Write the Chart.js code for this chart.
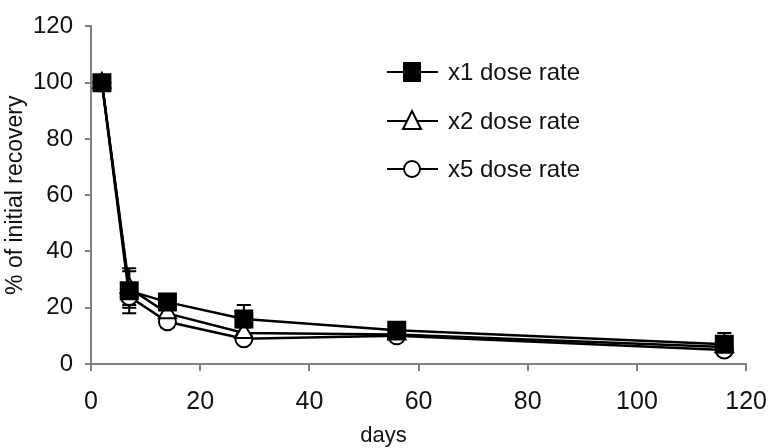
<!DOCTYPE html>
<html>
<head>
<meta charset="utf-8">
<script src="https://cdn.jsdelivr.net/npm/chart.js@4/dist/chart.umd.min.js"></script>
<style>
  html, body { margin: 0; padding: 0; background: #fff; }
  #wrap { width: 783px; height: 448px; }
</style>
</head>
<body>
<div id="wrap"><canvas id="chart" width="783" height="448"></canvas></div>
<script>
// values
var days = [2, 7, 14, 28, 56, 116];
var seriesNames = ['x1 dose rate', 'x2 dose rate', 'x5 dose rate'];
var x1Values = [100, 26, 22, 16, 12, 7];
var x1Errors = [2, 8, 2, 5, 2, 4];
var x2Values = [100, 27, 18, 11, 10.5, 6];
var x2Errors = [2, 6, 2, 2, 1, 2];
var x5Values = [100, 24, 15, 9, 10, 5];
var x5Errors = [2, 4, 2, 1, 1, 1];
var yTicks = [0, 20, 40, 60, 80, 100, 120];
var xTicks = [0, 20, 40, 60, 80, 100, 120];

var FONT = '"Liberation Sans", Arial, sans-serif';

function toPoints(vals) {
  var pts = [];
  for (var i = 0; i < days.length; i++) pts.push({ x: days[i], y: vals[i] });
  return pts;
}

function makeSet(label, vals, errs, style, fill, radius) {
  return {
    label: label,
    data: toPoints(vals),
    errors: errs,
    borderColor: '#000',
    borderWidth: 2.5,
    pointStyle: style,
    pointRadius: radius,
    pointBackgroundColor: fill,
    pointBorderColor: '#000',
    pointBorderWidth: 2,
    fill: false,
    tension: 0
  };
}

// error bars, drawn through the chart scales
var errorBars = {
  id: 'errorBars',
  beforeDatasetsDraw: function (chart) {
    var ctx = chart.ctx;
    var xs = chart.scales.x, ys = chart.scales.y;
    ctx.save();
    ctx.strokeStyle = '#000';
    ctx.lineWidth = 2;
    chart.data.datasets.forEach(function (ds) {
      ds.data.forEach(function (p, i) {
        var e = ds.errors[i];
        var px = xs.getPixelForValue(p.x);
        var top = ys.getPixelForValue(p.y + e);
        var bot = ys.getPixelForValue(p.y - e);
        ctx.beginPath();
        ctx.moveTo(px, top); ctx.lineTo(px, bot);
        ctx.moveTo(px - 7, top); ctx.lineTo(px + 7, top);
        ctx.moveTo(px - 7, bot); ctx.lineTo(px + 7, bot);
        ctx.stroke();
      });
    });
    ctx.restore();
  }
};

function drawMarker(ctx, style, fill, cx, cy) {
  ctx.beginPath();
  if (style === 'rect') {
    ctx.rect(cx - 8, cy - 9, 16, 18);
  } else if (style === 'triangle') {
    ctx.moveTo(cx, cy - 10);
    ctx.lineTo(cx + 9, cy + 8);
    ctx.lineTo(cx - 9, cy + 8);
    ctx.closePath();
  } else {
    ctx.arc(cx, cy, 8, 0, Math.PI * 2);
  }
  ctx.fillStyle = fill;
  ctx.fill();
  ctx.stroke();
}

// legend "—■— label" inside the plot, plus the x axis title
var customLegend = {
  id: 'customLegend',
  afterDraw: function (chart) {
    var ctx = chart.ctx;
    var rows = [72, 121, 169];
    ctx.save();
    chart.data.datasets.forEach(function (ds, i) {
      var y = rows[i];
      ctx.strokeStyle = '#000';
      ctx.lineWidth = 2;
      ctx.beginPath();
      ctx.moveTo(387, y); ctx.lineTo(438, y);
      ctx.stroke();
      drawMarker(ctx, ds.pointStyle, ds.pointBackgroundColor, 412, y);
      ctx.fillStyle = '#111';
      ctx.font = '24px ' + FONT;
      ctx.textAlign = 'left';
      ctx.textBaseline = 'middle';
      ctx.fillText(ds.label, 448, y + 1);
    });
    var area = chart.chartArea;
    ctx.font = '22px ' + FONT;
    ctx.textAlign = 'center';
    ctx.textBaseline = 'middle';
    ctx.fillStyle = '#111';
    ctx.fillText('days', (area.left + area.right) / 2 - 35, 436);
    ctx.restore();
  }
};

new Chart(document.getElementById('chart'), {
  type: 'line',
  data: {
    datasets: [
      makeSet(seriesNames[0], x1Values, x1Errors, 'rect', '#000', 12),
      makeSet(seriesNames[1], x2Values, x2Errors, 'triangle', '#fff', 10),
      makeSet(seriesNames[2], x5Values, x5Errors, 'circle', '#fff', 8.5)
    ]
  },
  options: {
    responsive: false,
    animation: false,
    layout: { padding: { top: 22, right: 23, left: 0, bottom: 0 } },
    plugins: { legend: { display: false }, tooltip: { enabled: false } },
    scales: {
      x: {
        type: 'linear',
        min: 0, max: 120,
        afterBuildTicks: function (s) { s.ticks = xTicks.map(function (v) { return { value: v }; }); },
        afterFit: function (s) { s.height = 84; },
        grid: { drawOnChartArea: false, drawTicks: true, tickLength: 7, color: '#808080', lineWidth: 2 },
        border: { color: '#808080', width: 2 },
        ticks: { color: '#111', font: { family: FONT, size: 25 }, padding: 16, maxRotation: 0 },
        title: { display: false }
      },
      y: {
        min: 0, max: 120,
        afterBuildTicks: function (s) { s.ticks = yTicks.map(function (v) { return { value: v }; }); },
        afterFit: function (s) { s.width = 91; },
        grid: { drawOnChartArea: false, drawTicks: true, tickLength: 6, color: '#808080', lineWidth: 2 },
        border: { color: '#808080', width: 2 },
        ticks: { color: '#111', font: { family: FONT, size: 24 }, padding: 12 },
        title: { display: true, text: '% of initial recovery', color: '#111', font: { family: FONT, size: 23 }, padding: { top: 2, bottom: 0 } }
      }
    }
  },
  plugins: [errorBars, customLegend]
});
</script>
</body>
</html>
